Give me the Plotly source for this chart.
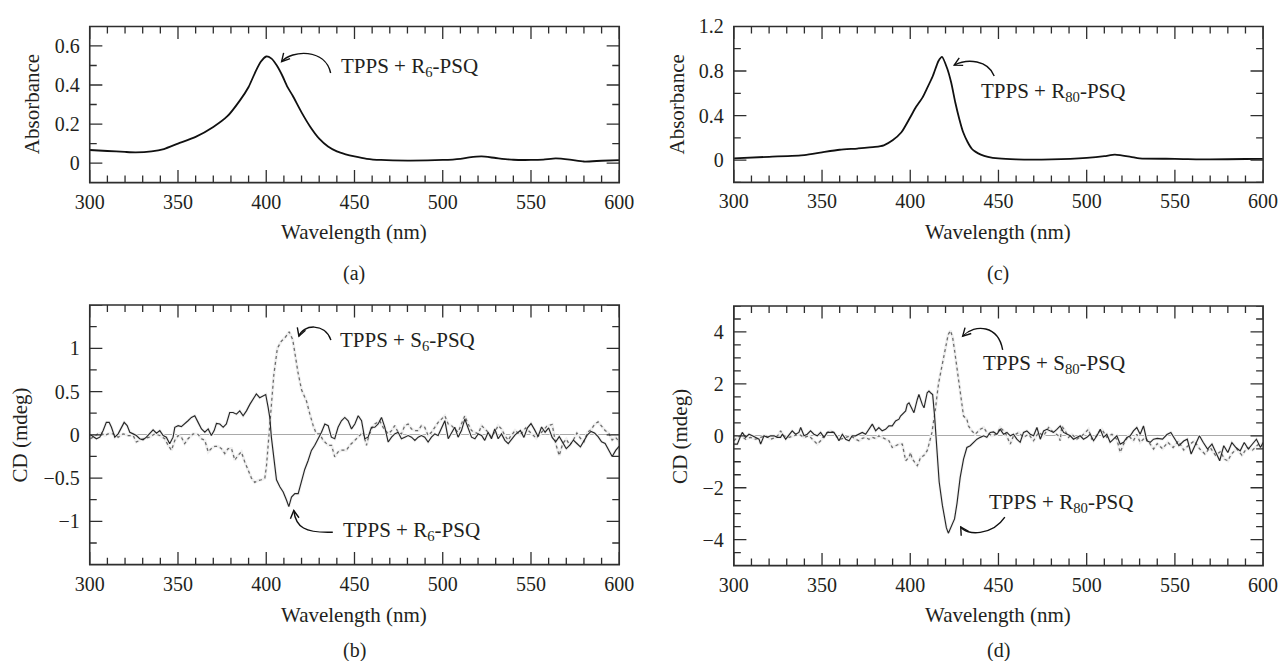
import math
import plotly.graph_objects as go

# ---------------- data ----------------
# (a) absorbance, TPPS + R6-PSQ
WL_A = [300, 310, 320, 326, 335, 342, 350, 360, 370, 378, 385, 390, 394, 397, 400, 403, 406,
        409, 412, 415, 420, 425, 430, 435, 440, 445, 450, 457, 465, 480, 500, 510, 515, 522,
        530, 540, 550, 557, 564, 572, 580, 590, 600]
ABS_A = [0.067, 0.062, 0.057, 0.055, 0.060, 0.072, 0.100, 0.134, 0.185, 0.240, 0.320, 0.390,
         0.470, 0.520, 0.546, 0.535, 0.500, 0.450, 0.390, 0.345, 0.260, 0.185, 0.125, 0.085,
         0.060, 0.045, 0.034, 0.022, 0.016, 0.013, 0.016, 0.022, 0.029, 0.034, 0.026, 0.017,
         0.016, 0.018, 0.024, 0.018, 0.008, 0.012, 0.015]

# (c) absorbance, TPPS + R80-PSQ
WL_C = [300, 320, 340, 350, 360, 370, 380, 385, 390, 395, 400, 403, 407, 409.3, 412.8, 416,
        418, 421, 423.2, 425.5, 427.8, 430, 432.5, 435, 437.1, 440, 444, 450, 460, 480, 500,
        510, 516, 525, 530, 550, 570, 590, 600]
ABS_C = [0.015, 0.030, 0.045, 0.070, 0.093, 0.104, 0.118, 0.133, 0.178, 0.250, 0.385, 0.470,
         0.563, 0.637, 0.755, 0.890, 0.927, 0.820, 0.696, 0.520, 0.370, 0.250, 0.163, 0.100,
         0.074, 0.050, 0.030, 0.015, 0.007, 0.007, 0.020, 0.035, 0.050, 0.030, 0.015, 0.012,
         0.006, 0.010, 0.012]

# (b) CD, TPPS + R6-PSQ (solid)
WL_B_R = [300.4, 301.9, 303.8, 305.7, 307.6, 309.4, 311.0, 312.3, 314.2, 316.1, 317.9, 319.5,
          321.2, 322.7, 324.6, 326.4, 328.3, 330.2, 332.1, 334.0, 335.9, 337.8, 339.7, 341.6,
          343.4, 345.3, 347.2, 348.2, 350.1, 351.9, 353.8, 355.7, 357.6, 359.5, 361.4, 363.3,
          365.2, 367.1, 368.9, 370.5, 371.8, 373.7, 375.6, 377.4, 379.3, 381.2, 383.1, 385.0,
          386.9, 388.8, 390.7, 392.6, 394.4, 396.3, 398.2, 399.7, 401.1, 402.0, 402.9, 404.3,
          405.8, 407.7, 409.6, 411.4, 412.8, 414.3, 416.2, 418.1, 419.9, 421.8, 423.7, 425.6,
          427.5, 429.4, 431.3, 433.2, 435.1, 436.9, 438.8, 440.7, 442.6, 444.5, 446.4, 448.3,
          450.2, 452.1, 454.0, 455.8, 457.7, 459.6, 461.5, 463.4, 465.3, 467.2, 469.1, 471.0,
          472.8, 474.7, 476.6, 478.5, 480.4, 482.3, 484.2, 486.1, 487.9, 489.8, 491.7, 493.6,
          495.5, 497.4, 499.3, 501.2, 503.1, 505.0, 506.8, 508.7, 510.6, 512.5, 514.4, 516.3,
          518.2, 520.1, 522.0, 523.8, 525.7, 527.6, 529.5, 531.4, 533.3, 535.2, 537.1, 539, 541,
          544, 546, 548, 550, 552, 554, 556, 558, 560, 562, 564, 566, 568, 570, 572, 574, 576,
          578, 580, 582, 584, 586, 588, 590, 592, 594, 596, 598, 600]
CD_B_R = [0.00, -0.02, -0.045, -0.027, 0.05, 0.144, 0.144, 0.087, -0.027, 0.011, 0.087, 0.144,
          0.106, 0.03, 0.011, -0.008, -0.045, -0.057, -0.027, 0.011, 0.057, 0.019, 0.049, -0.008,
          -0.027, -0.102, -0.027, 0.087, 0.106, 0.095, 0.125, 0.163, 0.201, 0.22, 0.144, 0.068,
          0.03, 0.068, -0.008, 0.049, 0.133, 0.125, 0.087, 0.125, 0.258, 0.258, 0.239, 0.277,
          0.22, 0.277, 0.352, 0.409, 0.473, 0.429, 0.447, 0.466, 0.314, 0.201, -0.027, -0.29,
          -0.52, -0.60, -0.66, -0.75, -0.83, -0.72, -0.68, -0.68, -0.55, -0.40, -0.30, -0.18,
          -0.12, -0.045, 0.03, 0.125, 0.106, -0.027, -0.045, 0.087, 0.163, 0.201, 0.163, 0.068,
          0.125, 0.22, 0.163, -0.045, -0.027, 0.087, 0.087, 0.125, 0.201, 0.087, -0.083, -0.027,
          0.011, 0.03, -0.045, -0.027, -0.008, -0.027, -0.064, -0.027, -0.008, -0.027, -0.083,
          -0.027, 0.011, -0.008, 0.087, 0.163, -0.045, 0.03, 0.087, -0.027, 0.049, 0.182, 0.087,
          -0.027, -0.045, 0.011, -0.008, -0.064, 0.03, -0.045, 0.068, -0.045, 0.011, -0.064,
          -0.102, -0.05, 0.0, 0.05, -0.03, 0.08, 0.13, 0.06, -0.02, 0.09, 0.03, 0.08, -0.03,
          -0.08, -0.02, -0.09, -0.16, -0.12, -0.06, -0.10, -0.14, -0.07, 0.0, 0.04, 0.02, -0.02,
          -0.08, -0.10, -0.18, -0.25, -0.18, -0.13]

# (b) CD, TPPS + S6-PSQ (dotted)
WL_B_S = [300.4, 302.8, 304.7, 306.6, 308.5, 310.4, 313.2, 316.1, 318.9, 321.7, 324.6, 326.4,
          328.3, 330.2, 334.0, 336.8, 339.7, 342.5, 344.4, 346.3, 348.2, 350.1, 351.9, 353.8,
          355.7, 358.6, 361.4, 363.3, 365.2, 367.1, 368.9, 370.8, 372.7, 374.6, 376.5, 378.4,
          380.3, 382.2, 384.1, 385.9, 387.8, 389.7, 391.6, 393.5, 395.4, 397.3, 399.2, 400.1,
          401.1, 402.0, 402.9, 404.3, 406.3, 408.5, 410.9, 413.0, 415.0, 416.5, 418.0, 420.0,
          422.8, 424.7, 426.6, 428.4, 430.3, 432.2, 435.1, 437.0, 438.8, 440.7, 442.6, 445.4,
          447.3, 449.2, 451.1, 453.0, 454.8, 456.8, 457.7, 459.6, 461.5, 464.3, 466.2, 469.1,
          471.0, 472.8, 474.7, 476.6, 478.5, 480.4, 482.3, 484.2, 486.1, 487.9, 489.8, 491.7,
          493.6, 495.5, 497.4, 499.3, 501.2, 503.1, 505.0, 506.8, 508.7, 510.6, 512.5, 514.4,
          516.3, 518.2, 520.1, 522.0, 523.8, 525.7, 527.6, 529.5, 531.4, 533.3, 535.2, 537.1,
          538, 541, 544, 547, 550, 553, 556, 559, 562, 564, 566, 568, 570, 572, 574, 576, 578,
          580, 582, 584, 586, 588, 590, 592, 594, 596, 598, 600]
CD_B_S = [-0.045, -0.008, 0.011, 0.019, -0.008, 0.011, 0.011, -0.027, 0.011, -0.008, -0.008,
          -0.083, -0.064, -0.045, -0.027, 0.011, -0.008, -0.045, -0.121, -0.178, -0.064, -0.008,
          -0.027, -0.102, -0.045, 0.011, 0.004, -0.045, -0.064, -0.197, -0.159, -0.133, -0.133,
          -0.159, -0.216, -0.159, -0.159, -0.292, -0.235, -0.197, -0.311, -0.405, -0.50, -0.549,
          -0.527, -0.519, -0.50, -0.367, -0.102, 0.163, 0.39, 0.693, 1.00, 1.08, 1.13, 1.19,
          1.10, 0.90, 0.72, 0.52, 0.39, 0.24, 0.106, 0.011, 0.011, -0.064, -0.121, -0.121,
          -0.254, -0.197, -0.178, -0.178, -0.121, -0.083, -0.045, -0.008, 0.03, -0.121, -0.045,
          0.068, 0.125, 0.163, 0.087, 0.011, 0.049, 0.106, 0.03, 0.011, 0.106, 0.125, 0.068,
          0.049, 0.049, 0.106, 0.087, -0.008, 0.03, 0.087, 0.144, 0.182, 0.22, 0.125, 0.106,
          0.068, 0.03, 0.125, 0.22, 0.125, 0.049, 0.03, 0.011, 0.106, 0.068, 0.03, -0.027, 0.03,
          0.106, 0.068, -0.008, -0.064, -0.03, 0.05, 0.0, 0.08, 0.02, -0.04, 0.03, 0.10, 0.12,
          -0.10, -0.24, -0.10, -0.05, -0.12, -0.06, 0.02, -0.04, -0.08, 0.03, 0.06, 0.12, 0.15,
          0.10, 0.05, 0.02, -0.06, -0.03, -0.08]

# (d) CD, TPPS + R80-PSQ (solid)
WL_D_R = [300.1, 302.0, 303.9, 304.8, 306.7, 308.6, 310.5, 312.4, 314.3, 315.2, 317.1, 319.0,
          320.9, 322.8, 324.6, 326.5, 327.5, 329.4, 331.3, 333.1, 335.0, 336.9, 337.9, 339.8,
          341.6, 343.5, 345.4, 347.3, 349.2, 351.1, 353.0, 354.9, 356.7, 358.6, 359.6, 361.5,
          363.4, 365.3, 367.1, 369.0, 370.9, 372.8, 374.7, 376.6, 378.5, 380.4, 382.2, 384.1,
          386.0, 387.9, 389.8, 391.7, 393.6, 394.5, 395.5, 397.4, 398.3, 399.3, 401.1, 402.1,
          404.0, 404.9, 406.8, 407.8, 409.6, 410.6, 411.5, 412.7, 413.8, 415.1, 416.4, 418.2,
          420.5, 421.6, 423.9, 425.1, 426.5, 428.3, 430.2, 432.1, 434.0, 435.9, 437.8, 439.7,
          441.6, 443.4, 445.3, 447.2, 449.1, 451.0, 452.9, 454.8, 456.7, 458.5, 460.4, 462.3,
          464.2, 466.1, 468.0, 469.9, 471.8, 473.7, 475.6, 477.4, 479.3, 481.2, 483.1, 485.0,
          486.9, 488.8, 490.7, 492.5, 494.4, 496.3, 498.2, 500.1, 502.0, 503.9, 505.8, 507.7,
          509.5, 511.4, 513.3, 515.2, 517.1, 519.0, 520.9, 522.8, 524.7, 526.5, 528.4, 530.3,
          532.2, 534.1, 536.0, 537.9, 540, 543, 545.5, 547.7, 550, 552.3, 555, 557, 559.2, 561.5,
          563.9, 566, 568.5, 571, 573, 575.4, 577.7, 580, 582.3, 584.6, 587, 589.3, 591.6, 593.9,
          596.2, 598.5, 600]
CD_D_R = [-0.32, -0.32, 0.0, 0.13, -0.06, 0.06, 0.0, -0.06, -0.13, -0.32, 0.0, -0.06, 0.0, 0.0,
          -0.06, -0.06, 0.06, -0.13, 0.06, 0.19, 0.06, 0.13, 0.32, 0.0, 0.06, 0.19, 0.06, 0.0,
          0.13, -0.06, 0.13, 0.13, 0.13, -0.06, -0.19, 0.06, -0.13, -0.19, 0.0, 0.0, 0.06, 0.13,
          0.06, 0.25, 0.45, 0.19, 0.32, 0.19, 0.25, 0.38, 0.38, 0.57, 0.64, 0.76, 0.83, 0.96,
          1.21, 1.27, 1.02, 0.89, 1.40, 1.59, 1.21, 1.08, 1.66, 1.72, 1.66, 1.59, 0.76, -0.51,
          -1.78, -2.67, -3.55, -3.75, -3.38, -3.20, -2.60, -1.60, -0.90, -0.45, -0.38, -0.25,
          -0.13, -0.06, 0.0, -0.06, 0.13, 0.15, 0.06, 0.25, 0.06, 0.13, 0.0, 0.06, -0.13, -0.25,
          0.13, 0.19, 0.06, 0.0, 0.32, -0.13, 0.19, 0.25, 0.19, 0.13, 0.25, 0.38, 0.13, 0.06,
          0.0, -0.13, -0.06, 0.0, -0.13, -0.06, 0.06, -0.19, 0.0, 0.25, -0.06, 0.06, -0.25,
          -0.13, 0.0, -0.32, -0.25, -0.06, 0.0, 0.19, 0.32, 0.06, 0.38, -0.19, -0.25, -0.13,
          -0.10, -0.13, 0.05, 0.13, -0.10, -0.38, -0.20, -0.13, -0.70, -0.35, 0.0, -0.25, -0.51,
          -0.32, -0.64, -0.96, -0.38, -0.64, -0.26, -0.45, -0.58, -0.26, -0.51, -0.32, -0.13,
          -0.45, -0.26]

# (d) CD, TPPS + S80-PSQ (dotted)
WL_D_S = [300.1, 302.0, 303.9, 306.7, 309.5, 312.4, 315.2, 318.0, 320.9, 323.7, 325.6, 326.5,
          328.4, 331.3, 334.1, 336.9, 339.8, 342.6, 345.4, 347.3, 349.2, 351.1, 353.0, 354.9,
          356.7, 358.6, 360.5, 363.4, 366.2, 369.0, 370.9, 372.8, 374.7, 376.6, 378.5, 380.4,
          382.2, 384.1, 386.0, 387.9, 389.8, 391.7, 393.6, 395.5, 396.4, 397.4, 399.3, 400.2,
          401.1, 403.0, 404.0, 404.9, 405.8, 407.7, 409.6, 410.4, 412.3, 414.2, 416.0, 418.0,
          420.2, 421.5, 422.8, 424.0, 425.1, 427.4, 429.3, 430.2, 432.1, 433.0, 434.9, 436.8,
          439.7, 441.6, 443.4, 446.3, 449.1, 451.0, 453.8, 456.7, 458.5, 461.4, 464.2, 467.1,
          469.9, 472.7, 475.6, 478.4, 481.2, 484.1, 485.0, 485.9, 487.8, 489.7, 491.6, 494.4,
          497.3, 501.0, 502.9, 504.8, 506.7, 508.6, 511.4, 514.3, 517.1, 519.0, 520.9, 523.7,
          526.5, 528.4, 530.3, 533.2, 536.0, 537.9, 540, 543, 546, 549, 552, 555, 558, 561, 564,
          567, 570, 573, 576, 578, 580, 582, 585, 588, 591, 594, 597, 600]
CD_D_S = [-0.19, -0.06, 0.0, -0.13, -0.06, -0.13, -0.06, 0.0, -0.13, -0.06, 0.06, 0.19, 0.0,
          -0.06, 0.0, 0.06, -0.06, 0.0, -0.19, -0.32, -0.19, 0.0, 0.13, 0.19, 0.13, -0.06, -0.13,
          -0.06, 0.0, -0.13, -0.19, -0.10, -0.06, -0.13, -0.06, -0.10, 0.0, -0.06, -0.13, -0.19,
          -0.45, -0.38, -0.32, -0.32, -0.64, -0.96, -0.83, -0.64, -0.89, -1.08, -1.15, -1.02,
          -0.83, -0.76, -0.57, -0.38, 0.13, 1.00, 2.00, 2.70, 3.40, 3.90, 4.05, 3.80, 3.30, 2.10,
          1.10, 0.76, 0.64, 0.38, 0.19, 0.06, 0.25, 0.32, 0.13, 0.0, 0.06, 0.32, 0.13, -0.32,
          0.0, 0.13, -0.06, 0.06, -0.19, 0.13, 0.0, 0.32, 0.13, 0.0, -0.19, 0.38, 0.19, -0.06,
          0.06, -0.13, 0.0, 0.25, -0.13, -0.06, 0.13, 0.25, -0.06, 0.06, -0.13, -0.64, -0.32,
          0.0, -0.19, 0.06, -0.25, -0.06, -0.32, -0.51, -0.30, -0.50, -0.25, -0.45, -0.20,
          -0.55, -0.35, -0.20, -0.50, -0.70, -0.45, -0.75, -0.60, -0.90, -0.96, -0.70, -0.50,
          -0.75, -0.45, -0.55, -0.35, -0.30]

# tick labels
X_TICKS = [300, 350, 400, 450, 500, 550, 600]
X_TICK_TEXT = ["300", "350", "400", "450", "500", "550", "600"]
Y_TICKS_A = [0, 0.2, 0.4, 0.6]
Y_TICK_TEXT_A = ["0", "0.2", "0.4", "0.6"]
Y_TICKS_C = [0, 0.4, 0.8, 1.2]
Y_TICK_TEXT_C = ["0", "0.4", "0.8", "1.2"]
Y_TICKS_B = [-1, -0.5, 0, 0.5, 1]
Y_TICK_TEXT_B = ["\u22121", "\u22120.5", "0", "0.5", "1"]
Y_TICKS_D = [-4, -2, 0, 2, 4]
Y_TICK_TEXT_D = ["\u22124", "\u22122", "0", "2", "4"]

# texts
X_TITLE = "Wavelength (nm)"
Y_TITLE_ABS = "Absorbance"
Y_TITLE_CD = "CD (mdeg)"
PANEL_LABELS = ["(a)", "(b)", "(c)", "(d)"]
LABEL_A = "TPPS + R<sub>6</sub>-PSQ"
LABEL_B_S = "TPPS + S<sub>6</sub>-PSQ"
LABEL_B_R = "TPPS + R<sub>6</sub>-PSQ"
LABEL_C = "TPPS + R<sub>80</sub>-PSQ"
LABEL_D_S = "TPPS + S<sub>80</sub>-PSQ"
LABEL_D_R = "TPPS + R<sub>80</sub>-PSQ"

# ---------------- layout geometry ----------------
W, H = 1280, 661
FONT = "Liberation Serif"
TXT = "#231f20"
AX = "#2e2e2e"
TICK_SIZE = 20
TITLE_SIZE = 21

# the page is shown slightly narrowed horizontally; map wanted screen x to layout x
SX_OFF, SX_K = 15.3, 0.976


def LX(px):
    return (px - SX_OFF) / SX_K


# wanted screen pixel boxes of the plot areas: (left, right, top, bottom)
P = {
    "a": dict(box=(90.0, 619.2, 15.7, 174.5), yr=(-0.1, 0.7), n=1,
              tv=Y_TICKS_A, tt=Y_TICK_TEXT_A, minor=0.1, major=0.2, zero=False),
    "b": dict(box=(90.0, 619.2, 299.0, 563.0), yr=(-1.5, 1.5), n=2,
              tv=Y_TICKS_B, tt=Y_TICK_TEXT_B, minor=0.25, major=0.5, zero=True),
    "c": dict(box=(733.7, 1262.7, 15.7, 174.3), yr=(-0.2, 1.2), n=3,
              tv=Y_TICKS_C, tt=Y_TICK_TEXT_C, minor=0.2, major=0.4, zero=False),
    "d": dict(box=(733.7, 1262.7, 300.0, 564.0), yr=(-5.0, 5.0), n=4,
              tv=Y_TICKS_D, tt=Y_TICK_TEXT_D, minor=0.5, major=2.0, zero=True),
}
XR = (300, 600)
X_MINOR_STEP = 10
X_MAJOR_STEP = 50


def aid(prefix, n):
    return prefix if n == 1 else "%s%d" % (prefix, n)


def d2p(k, x, y):
    l, r, t, b = P[k]["box"]
    y0, y1 = P[k]["yr"]
    return (l + (x - XR[0]) / (XR[1] - XR[0]) * (r - l),
            b - (y - y0) / (y1 - y0) * (b - t))


def p2d(k, px, py):
    l, r, t, b = P[k]["box"]
    y0, y1 = P[k]["yr"]
    return (XR[0] + (px - l) / (r - l) * (XR[1] - XR[0]),
            y0 + (b - py) / (b - t) * (y1 - y0))


def steps(lo, hi, step):
    out = []
    i = 0
    while lo + i * step <= hi + 1e-9:
        out.append(round(lo + i * step, 6))
        i += 1
    return out


def is_multiple(v, step):
    q = v / step
    return abs(q - round(q)) < 1e-6


fig = go.Figure()

series = {
    "a": [(WL_A, ABS_A, "abs")],
    "c": [(WL_C, ABS_C, "abs")],
    "b": [(WL_B_S, CD_B_S, "dot"), (WL_B_R, CD_B_R, "solid")],
    "d": [(WL_D_S, CD_D_S, "dot"), (WL_D_R, CD_D_R, "solid")],
}
styles = {
    "abs": dict(color="#111111", width=1.8, shape="spline", smoothing=0.6),
    "solid": dict(color="#262626", width=1.15),
    "dot": dict(color="#6a6a6a", width=1.25, dash="dot"),
}

for k, lst in series.items():
    p = P[k]
    n = p["n"]
    xa, ya = aid("x", n), aid("y", n)
    for wl, val, st in lst:
        if st != "abs":
            fig.add_trace(go.Scatter(x=wl, y=val, mode="lines", xaxis=xa, yaxis=ya,
                                     line=dict(color="#f0f0f0", width=3), hoverinfo="skip"))
    for wl, val, st in lst:
        fig.add_trace(go.Scatter(x=wl, y=val, mode="lines", xaxis=xa, yaxis=ya,
                                 line=styles[st]))

    # inward tick marks on all four sides (the outer half of each marker is clipped)
    y0, y1 = p["yr"]
    xall = steps(XR[0], XR[1], X_MINOR_STEP)
    xmaj = [v for v in xall if is_multiple(v - XR[0], X_MAJOR_STEP)]
    xmin = [v for v in xall if v not in xmaj]
    yall = steps(y0, y1, p["minor"])
    ymaj = [v for v in yall if is_multiple(v, p["major"])]
    ymin = [v for v in yall if v not in ymaj]
    for vals, size in ((xmaj, 18), (xmin, 10)):
        fig.add_trace(go.Scatter(
            x=vals + vals, y=[y0] * len(vals) + [y1] * len(vals), mode="markers",
            xaxis=xa, yaxis=ya, hoverinfo="skip", cliponaxis=True,
            marker=dict(symbol="line-ns", size=size, color=AX,
                        line=dict(color=AX, width=1.3))))
    for vals, size in ((ymaj, 18), (ymin, 10)):
        fig.add_trace(go.Scatter(
            x=[XR[0]] * len(vals) + [XR[1]] * len(vals), y=vals + vals, mode="markers",
            xaxis=xa, yaxis=ya, hoverinfo="skip", cliponaxis=True,
            marker=dict(symbol="line-ew", size=size, color=AX,
                        line=dict(color=AX, width=1.3))))

lay = {}
shapes = []
for k, p in P.items():
    l, r, t, b = p["box"]
    n = p["n"]
    xdom = [max(0.0, LX(l) / W), min(1.0, LX(r) / W)]
    ydom = [1 - b / H, 1 - t / H]
    lay[aid("xaxis", n)] = dict(domain=xdom, anchor=aid("y", n), range=list(XR),
                                tickmode="array", tickvals=X_TICKS, ticktext=X_TICK_TEXT,
                                ticks="", showline=False, showgrid=False, zeroline=False,
                                ticklabelstandoff=5,
                                tickfont=dict(family=FONT, size=TICK_SIZE, color=TXT))
    lay[aid("yaxis", n)] = dict(domain=ydom, anchor=aid("x", n), range=list(p["yr"]),
                                tickmode="array", tickvals=p["tv"], ticktext=p["tt"],
                                ticks="", showline=False, showgrid=False,
                                zeroline=p["zero"], zerolinecolor="#a9a9a9",
                                zerolinewidth=1.2, ticklabelstandoff=9,
                                tickfont=dict(family=FONT, size=TICK_SIZE, color=TXT))
    shapes.append(dict(type="rect", xref=aid("x", n) + " domain",
                       yref=aid("y", n) + " domain", x0=0, x1=1, y0=0, y1=1,
                       layer="above", line=dict(color=AX, width=1.6)))

fig.update_layout(width=W, height=H, margin=dict(l=0, r=0, t=0, b=0),
                  paper_bgcolor="white", plot_bgcolor="white", showlegend=False, **lay)

annos = []


def text(px, py, s, size=TITLE_SIZE, xanchor="center", angle=0):
    annos.append(dict(x=LX(px) / W, y=1 - py / H, xref="paper", yref="paper", text=s,
                      showarrow=False, xanchor=xanchor, yanchor="middle", textangle=angle,
                      font=dict(family=FONT, size=size, color=TXT)))


for k, lab in zip(["a", "b", "c", "d"], PANEL_LABELS):
    l, r, t, b = P[k]["box"]
    cx = (l + r) / 2
    top_row = k in ("a", "c")
    text(cx, 225 if top_row else 614, X_TITLE)
    text(cx, 267 if top_row else 650, lab, size=20)

text(33, 95, Y_TITLE_ABS, angle=-90)
text(677, 95, Y_TITLE_ABS, angle=-90)
text(20, 431, Y_TITLE_CD, angle=-90)
text(680, 433, Y_TITLE_CD, angle=-90)

# curve labels
text(339, 57, LABEL_A, xanchor="left")
text(338, 336, LABEL_B_S, xanchor="left")
text(341, 529, LABEL_B_R, xanchor="left")
text(979, 82, LABEL_C, xanchor="left")
text(981, 359, LABEL_D_S, xanchor="left")
text(987, 500, LABEL_D_R, xanchor="left")

# curved arrows: tip in data units, control points / tail as pixel offsets from tip
ARROWS = [
    ("a", (408.7, 0.52), (10.4, -11.7), (43.4, -13.7), (49.0, 11.6)),
    ("b", (418.5, 1.14), (4.0, -12.0), (26.0, -14.0), (32.0, 4.0)),
    ("b", (415.6, -0.875), (2.0, 17.0), (11.0, 23.0), (39.0, 22.0)),
    ("c", (424.9, 0.853), (13.7, -7.0), (33.7, -5.0), (40.0, 11.0)),
    ("d", (429.7, 3.84), (12.6, -13.0), (35.6, -11.0), (40.0, 14.0)),
    ("d", (428.6, -3.51), (5.6, 9.0), (31.6, 9.0), (44.1, -10.0)),
]

for k, tip, c1, c2, tail in ARROWS:
    n = P[k]["n"]
    xr, yr = aid("x", n), aid("y", n)
    tx, ty = d2p(k, *tip)
    pts = [(tx, ty), (tx + c1[0], ty + c1[1]), (tx + c2[0], ty + c2[1]),
           (tx + tail[0], ty + tail[1])]
    dpts = [p2d(k, *q) for q in pts]
    path = "M {:.4f},{:.5f} C {:.4f},{:.5f} {:.4f},{:.5f} {:.4f},{:.5f}".format(
        dpts[0][0], dpts[0][1], dpts[1][0], dpts[1][1], dpts[2][0], dpts[2][1],
        dpts[3][0], dpts[3][1])
    shapes.append(dict(type="path", path=path, xref=xr, yref=yr,
                       line=dict(color="#111111", width=1.4)))
    vx, vy = c1
    nn = math.hypot(vx, vy)
    vx, vy = vx / nn, vy / nn
    head = []
    for ang in (0.5, -0.5):
        ca, sa = math.cos(ang), math.sin(ang)
        head.append(p2d(k, tx + 9 * (vx * ca - vy * sa), ty + 9 * (vx * sa + vy * ca)))
    tipd = p2d(k, tx, ty)
    hpath = "M {:.4f},{:.5f} L {:.4f},{:.5f} L {:.4f},{:.5f}".format(
        head[0][0], head[0][1], tipd[0], tipd[1], head[1][0], head[1][1])
    shapes.append(dict(type="path", path=hpath, xref=xr, yref=yr,
                       line=dict(color="#111111", width=1.4)))

fig.update_layout(annotations=annos, shapes=shapes)

fig.write_html("out.html")
